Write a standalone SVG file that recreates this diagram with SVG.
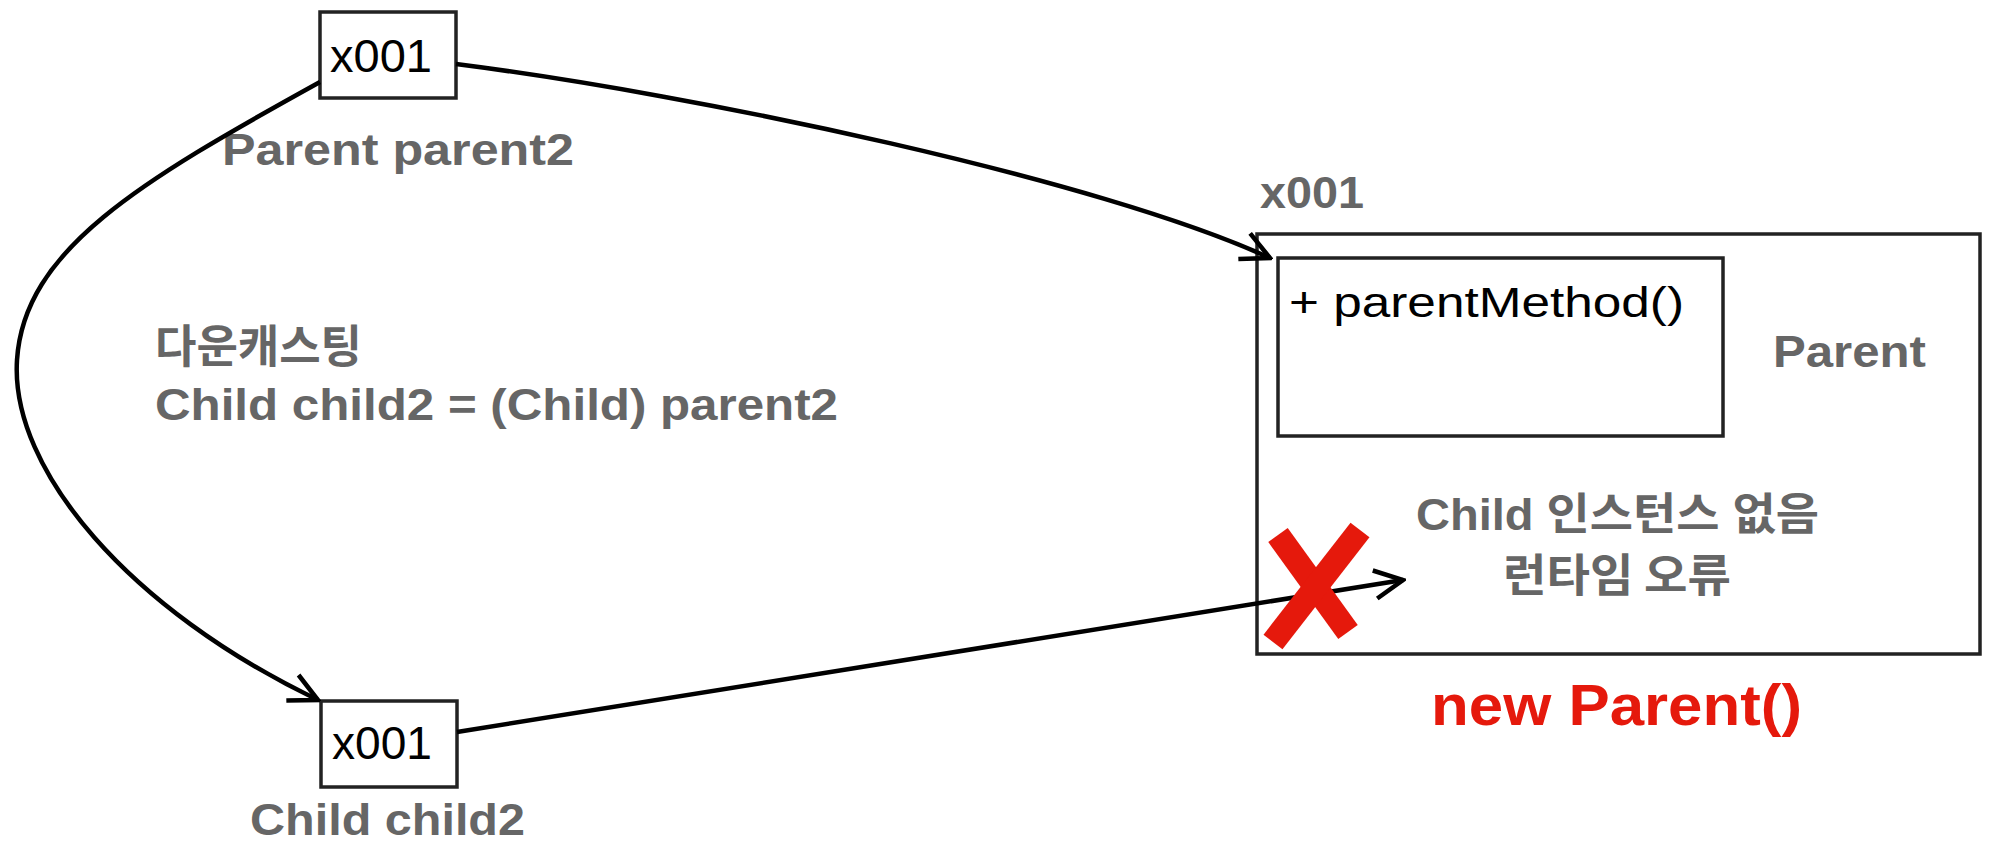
<svg xmlns="http://www.w3.org/2000/svg" width="2000" height="853" viewBox="0 0 2000 853">
  <style>
    .box { fill: #ffffff; stroke: #222222; stroke-width: 3.5; }
    .conn { fill: none; stroke: #000000; stroke-width: 4.5; }
    .addr { font-family: "Liberation Sans", Arial, sans-serif; font-size: 46px; fill: #000000; }
    .lbl { font-family: "Liberation Sans", "Noto Sans CJK KR", sans-serif; font-weight: bold; font-size: 44px; fill: #666666; }
    .ko { font-family: "Noto Sans CJK KR", sans-serif; font-weight: bold; font-size: 45px; fill: #666666; }
    .method { font-family: "Liberation Sans", Arial, sans-serif; font-size: 42px; fill: #000000; }
    .red { font-family: "Liberation Sans", Arial, sans-serif; font-weight: bold; font-size: 58px; fill: #e5190c; }
  </style>
  <defs>
    <marker id="arrow" viewBox="0 0 12 12" refX="11" refY="6" markerWidth="34" markerHeight="34" markerUnits="userSpaceOnUse" orient="auto">
      <path d="M1,1 L11,6 L1,11" fill="none" stroke="#000000" stroke-width="1.6" stroke-linejoin="miter"/>
    </marker>
  </defs>
  <rect width="2000" height="853" fill="#ffffff"/>

  <g id="parent2-ref">
    <rect class="box" x="320" y="12" width="136" height="86"/>
    <text class="addr" x="330" y="72" textLength="102" lengthAdjust="spacingAndGlyphs">x001</text>
    <text class="lbl" x="222" y="165" textLength="352" lengthAdjust="spacingAndGlyphs">Parent parent2</text>
  </g>

  <g id="downcast-label">
    <text class="ko" x="155" y="363">다운캐스팅</text>
    <text class="lbl" x="155" y="420" textLength="683" lengthAdjust="spacingAndGlyphs">Child child2 = (Child) parent2</text>
  </g>

  <g id="child2-ref">
    <rect class="box" x="321" y="701" width="136" height="86"/>
    <text class="addr" x="332" y="759" textLength="100" lengthAdjust="spacingAndGlyphs">x001</text>
    <text class="lbl" x="250" y="835" textLength="275" lengthAdjust="spacingAndGlyphs">Child child2</text>
  </g>

  <g id="parent-instance">
    <text class="lbl" x="1260" y="208" textLength="104" lengthAdjust="spacingAndGlyphs">x001</text>
    <rect class="box" x="1257" y="234" width="723" height="420"/>
    <rect class="box" x="1278" y="258" width="445" height="178"/>
    <text class="method" x="1289" y="317" textLength="395" lengthAdjust="spacingAndGlyphs">+ parentMethod()</text>
    <text class="lbl" x="1773" y="367" textLength="153" lengthAdjust="spacingAndGlyphs">Parent</text>
    <text class="lbl" x="1416" y="530" textLength="403" lengthAdjust="spacingAndGlyphs">Child 인스턴스 없음</text>
    <text class="ko" x="1503" y="592" textLength="228" lengthAdjust="spacingAndGlyphs">런타임 오류</text>
    <text class="red" x="1431" y="725" textLength="371" lengthAdjust="spacingAndGlyphs">new Parent()</text>
  </g>

  <g id="connectors">
    <path class="conn" d="M456,64 C700,95 1100,180 1270,258" marker-end="url(#arrow)"/>
    <path class="conn" d="M320,82 C139,182 24,250 17,360 C10,470 130,610 318,700" marker-end="url(#arrow)"/>
    <path class="conn" d="M457,732 L1403,580" marker-end="url(#arrow)"/>
  </g>

  <g id="error-mark">
    <line x1="1278" y1="535" x2="1348" y2="632" stroke="#e5190c" stroke-width="24"/>
    <line x1="1360" y1="530" x2="1273" y2="642" stroke="#e5190c" stroke-width="24"/>
  </g>
</svg>
